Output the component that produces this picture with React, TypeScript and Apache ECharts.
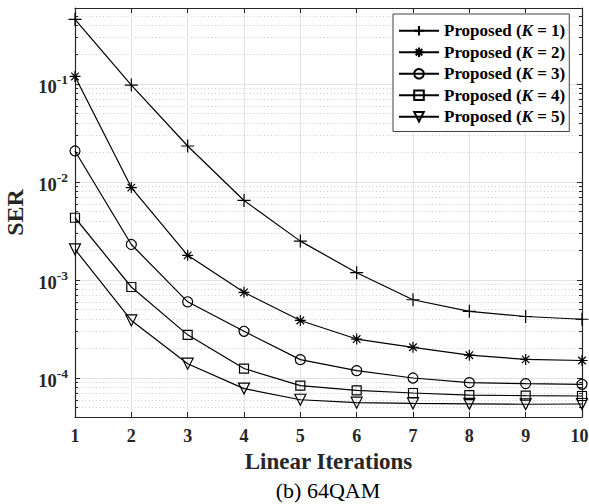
import { useEffect, useRef } from 'react';
import * as echarts from 'echarts';

// ---- data ----
const iterations = [1, 2, 3, 4, 5, 6, 7, 8, 9, 10];
const serK1 = [0.46, 0.098, 0.0234, 0.0065, 0.0025, 0.00119, 0.00063, 0.00048, 0.000425, 0.000398];
const serK2 = [0.12, 0.0088, 0.00179, 0.00075, 0.000387, 0.00025, 0.000206, 0.000171, 0.000155, 0.000151];
const serK3 = [0.0208, 0.00231, 0.0006, 0.0003, 0.000154, 0.000119, 0.0001, 0.0000897, 0.0000877, 0.0000863];
const serK4 = [0.00433, 0.00085, 0.000276, 0.000125, 0.0000836, 0.0000748, 0.0000703, 0.000067, 0.000066, 0.0000655];
const serK5 = [0.00206, 0.000387, 0.00014, 0.000078, 0.00006, 0.000056, 0.000055, 0.0000545, 0.000054, 0.0000543];
const seriesNames = ['Proposed (K = 1)', 'Proposed (K = 2)', 'Proposed (K = 3)', 'Proposed (K = 4)', 'Proposed (K = 5)'];

// ---- axis ticks ----
const yMin = 4e-5;
const yMax = 0.6;
const xMin = 1;
const xMax = 10;
const minorDecades = [-5, -4, -3, -2, -1];
const minorMultipliers = [2, 3, 4, 5, 6, 7, 8, 9];
const xLabel = 'Linear Iterations';
const yLabel = 'SER';
const caption = '(b) 64QAM';

const FONT = '"Liberation Serif", "Times New Roman", Times, serif';
const INK = '#262626';

const PLUS = 'path://M6 0V12M0 6H12';
const STAR = 'path://M6 0V12M0 6H12M1.9 1.9L10.1 10.1M10.1 1.9L1.9 10.1';

export default function App() {
  const ref = useRef<HTMLDivElement>(null);

  useEffect(() => {
    if (!ref.current) return;
    const chart = echarts.init(ref.current, null, { renderer: 'svg' });

    const minorLogs: number[] = [];
    minorDecades.forEach((d) => {
      minorMultipliers.forEach((m) => {
        const v = m * Math.pow(10, d);
        if (v > yMin && v < yMax) minorLogs.push(Math.log10(v));
      });
    });

    const allSeries = [serK1, serK2, serK3, serK4, serK5];
    const symbols = [PLUS, STAR, 'circle', 'rect', 'triangle'];
    const sizes = [13, 11, 10, 9, 11];
    const rotates = [0, 0, 0, 0, 180];

    const series: any[] = allSeries.map((vals, k) => ({
      type: 'line',
      name: seriesNames[k],
      xAxisIndex: 0,
      yAxisIndex: 0,
      data: iterations.map((x, i) => [x, vals[i]]),
      symbol: symbols[k],
      symbolSize: sizes[k],
      symbolRotate: rotates[k],
      showAllSymbol: true,
      clip: false,
      z: 5,
      lineStyle: { color: '#000', width: 1.2 },
      itemStyle: { color: 'rgba(0,0,0,0)', borderColor: '#000', borderWidth: 1.2 },
      emphasis: { disabled: true },
    }));

    const axisLine = { show: true, lineStyle: { color: INK, width: 1.2 } };
    const tickFont = { fontFamily: FONT, fontSize: 18, fontWeight: 'bold', color: INK };

    chart.setOption({
      animation: false,
      backgroundColor: '#fff',
      grid: { left: 75, right: 7, top: 8, bottom: 87, containLabel: false, outerBoundsMode: 'none' },
      legend: {
        left: 393,
        top: 14,
        orient: 'vertical',
        padding: [8, 4, 6, 5],
        itemWidth: 40,
        itemHeight: 12,
        itemGap: 4,
        backgroundColor: '#fff',
        borderColor: '#404040',
        borderWidth: 1,
        data: seriesNames,
        formatter: (name: string) => name.replace('K', '{i|K}'),
        textStyle: {
          fontFamily: FONT,
          fontSize: 17,
          fontWeight: 'bold',
          color: '#000',
          lineHeight: 17.5,
          rich: {
            i: { fontFamily: FONT, fontSize: 17, fontWeight: 'bold', fontStyle: 'italic', color: '#000' },
          },
        },
      },
      xAxis: [
        {
          type: 'value',
          min: xMin,
          max: xMax,
          interval: 1,
          position: 'bottom',
          axisLine,
          axisTick: { show: true, inside: true, length: 5, lineStyle: { color: INK } },
          axisLabel: {
            margin: 10,
            ...tickFont,
            formatter: (v: number) => (v === xMax ? `{r|${v}}` : `${v}`),
            rich: { r: { ...tickFont, padding: [0, 5, 0, 0] } },
          },
          splitLine: { show: true, lineStyle: { color: '#e2e2e2', width: 1 } },
          name: xLabel,
          nameLocation: 'middle',
          nameGap: 32,
          nameTextStyle: { fontFamily: FONT, fontSize: 23, fontWeight: 'bold', color: INK },
        },
        {
          type: 'value',
          min: xMin,
          max: xMax,
          interval: 1,
          position: 'top',
          axisLine,
          axisTick: { show: true, inside: true, length: 5, lineStyle: { color: INK } },
          axisLabel: { show: false },
          splitLine: { show: false },
        },
      ],
      yAxis: [
        {
          type: 'log',
          min: yMin,
          max: yMax,
          position: 'left',
          axisLine,
          axisTick: { show: true, inside: true, length: 5, lineStyle: { color: INK } },
          splitLine: { show: true, lineStyle: { color: '#e2e2e2', width: 1 } },
          axisLabel: {
            margin: 7,
            formatter: (v: number) => {
              const e = Math.log10(v);
              const r = Math.round(e);
              if (Math.abs(e - r) > 1e-6) return '';
              return `{b|10}{s|${r}}`;
            },
            rich: {
              b: { fontFamily: FONT, fontSize: 18.5, fontWeight: 'bold', color: INK, verticalAlign: 'bottom', padding: [5, 0, 0, 0] },
              s: { fontFamily: FONT, fontSize: 13.5, fontWeight: 'bold', color: INK, verticalAlign: 'top' },
            },
          },
          name: yLabel,
          nameLocation: 'middle',
          nameGap: 46,
          nameTextStyle: { fontFamily: FONT, fontSize: 24, fontWeight: 'bold', color: INK },
        },
        {
          type: 'log',
          min: yMin,
          max: yMax,
          position: 'right',
          axisLine,
          axisTick: { show: true, inside: true, length: 5, lineStyle: { color: INK } },
          axisLabel: { show: false },
          splitLine: { show: false },
        },
        {
          type: 'value',
          min: Math.log10(yMin),
          max: Math.log10(yMax),
          position: 'left',
          axisLine: { show: false },
          axisTick: { show: true, inside: true, length: 3, customValues: minorLogs, lineStyle: { color: INK } },
          axisLabel: { show: false },
          splitLine: { show: true, lineStyle: { color: '#cfcfcf', width: 1, type: [1, 2.5] } },
        },
        {
          type: 'value',
          min: Math.log10(yMin),
          max: Math.log10(yMax),
          position: 'right',
          axisLine: { show: false },
          axisTick: { show: true, inside: true, length: 3, customValues: minorLogs, lineStyle: { color: INK } },
          axisLabel: { show: false },
          splitLine: { show: false },
        },
      ],
      graphic: [
        {
          type: 'text',
          x: 328,
          y: 490,
          style: { text: caption, fontFamily: FONT, fontSize: 22, fill: '#000', textAlign: 'center', textVerticalAlign: 'middle' },
        },
      ],
      series,
    });

    return () => chart.dispose();
  }, []);

  return <div ref={ref} style={{ width: 589, height: 504, position: 'absolute', left: 0, top: 0 }} />;
}
